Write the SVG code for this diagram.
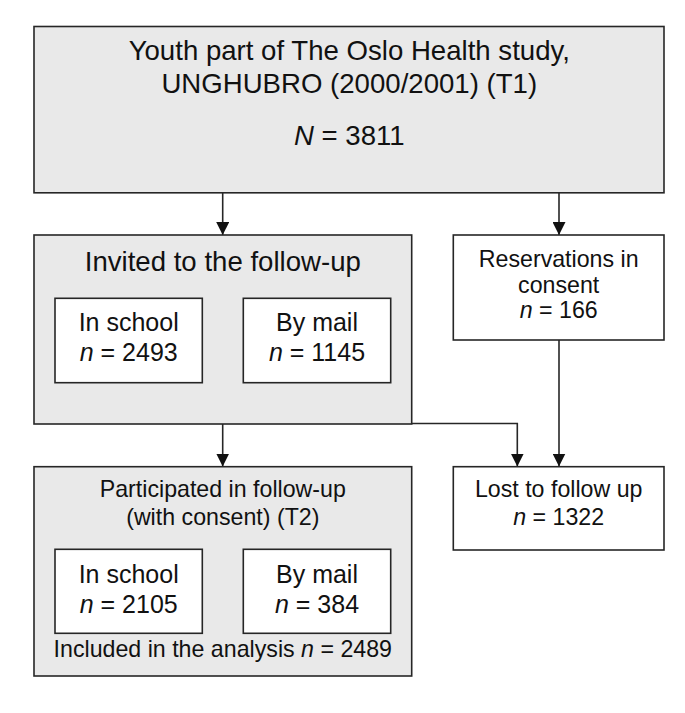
<svg xmlns="http://www.w3.org/2000/svg" width="685" height="713" viewBox="0 0 685 713">
<defs>
<style>
.bg{fill:#e9e9e9;stroke:#262626;stroke-width:1.6}
.wb{fill:#ffffff;stroke:#262626;stroke-width:1.6}
.c{fill:none;stroke:#262626;stroke-width:1.6}
text{font-family:"Liberation Sans",Arial,sans-serif;fill:#111;text-anchor:middle}
.t1{font-size:27.6px}
.t2{font-size:25px}
.t3{font-size:23.2px}
.i{font-style:italic}
</style>
<marker id="ah" markerUnits="userSpaceOnUse" markerWidth="13" markerHeight="13" refX="13" refY="6.5" orient="auto">
<path d="M0,0 L13,6.5 L0,13 z" fill="#111"/>
</marker>
</defs>
<rect width="685" height="713" fill="#ffffff"/>
<g id="connectors">
<line class="c" x1="222.7" y1="193" x2="222.7" y2="235" marker-end="url(#ah)"/>
<line class="c" x1="559" y1="193" x2="559" y2="235" marker-end="url(#ah)"/>
<line class="c" x1="222.7" y1="424" x2="222.7" y2="466.5" marker-end="url(#ah)"/>
<line class="c" x1="559" y1="340" x2="559" y2="466.5" marker-end="url(#ah)"/>
<path class="c" d="M411.7,423.5 H517.3 V466.5" marker-end="url(#ah)"/>
</g>
<g id="study">
<rect class="bg" x="34" y="26.5" width="630" height="166.3"/>
<text class="t1" x="349.3" y="60">Youth part of The Oslo Health study,</text>
<text class="t1" x="349.3" y="92.7">UNGHUBRO (2000/2001) (T1)</text>
<text class="t1" x="349.3" y="145"><tspan class="i">N</tspan> = 3811</text>
</g>
<g id="invited">
<rect class="bg" x="34" y="235" width="377.7" height="189"/>
<text class="t1" x="222.8" y="270.7">Invited to the follow-up</text>
</g>
<g id="invited-school">
<rect class="wb" x="55" y="298.3" width="147.3" height="84.4"/>
<text class="t2" x="128.7" y="330.7">In school</text>
<text class="t2" x="128.7" y="360.7"><tspan class="i">n</tspan> = 2493</text>
</g>
<g id="invited-mail">
<rect class="wb" x="243.3" y="298.3" width="147.4" height="84.4"/>
<text class="t2" x="317" y="330.7">By mail</text>
<text class="t2" x="317" y="360.7"><tspan class="i">n</tspan> = 1145</text>
</g>
<g id="reservations">
<rect class="wb" x="453.3" y="235" width="210.7" height="105"/>
<text class="t3" x="558.7" y="266.7">Reservations in</text>
<text class="t3" x="558.7" y="292.7">consent</text>
<text class="t3" x="558.7" y="318.3"><tspan class="i">n</tspan> = 166</text>
</g>
<g id="participated">
<rect class="bg" x="34" y="466.7" width="377.7" height="209.3"/>
<text class="t3" x="222.8" y="497.3">Participated in follow-up</text>
<text class="t3" x="222.8" y="525">(with consent) (T2)</text>
<text class="t3" x="222.8" y="656.7">Included in the analysis <tspan class="i">n</tspan> = 2489</text>
</g>
<g id="participated-school">
<rect class="wb" x="55" y="549.3" width="147.3" height="84"/>
<text class="t2" x="128.7" y="583.3">In school</text>
<text class="t2" x="128.7" y="612.7"><tspan class="i">n</tspan> = 2105</text>
</g>
<g id="participated-mail">
<rect class="wb" x="243.3" y="549.3" width="147.4" height="84"/>
<text class="t2" x="317" y="583.3">By mail</text>
<text class="t2" x="317" y="612.7"><tspan class="i">n</tspan> = 384</text>
</g>
<g id="lost">
<rect class="wb" x="453.3" y="466.7" width="210.7" height="83.3"/>
<text class="t3" x="558.7" y="497.3">Lost to follow up</text>
<text class="t3" x="558.7" y="525"><tspan class="i">n</tspan> = 1322</text>
</g>
</svg>
